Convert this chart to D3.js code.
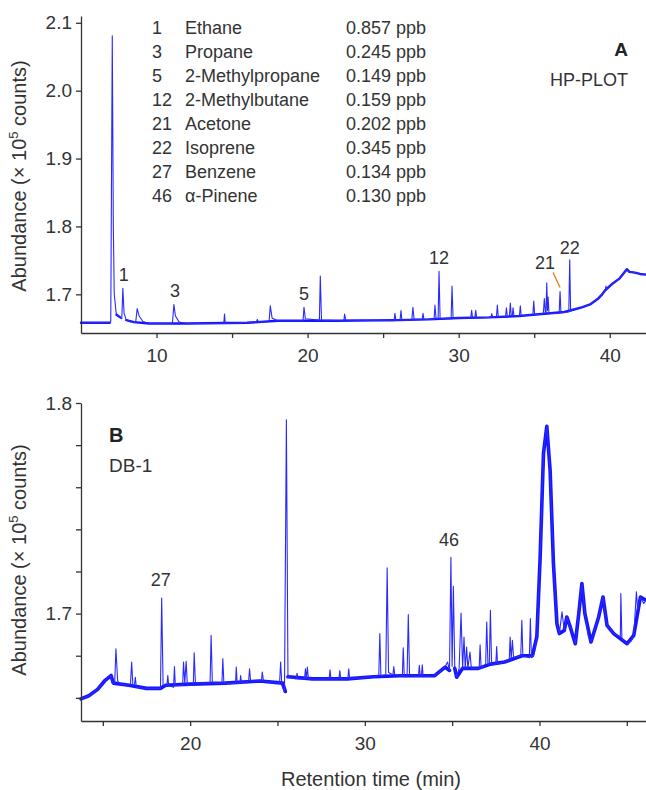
<!DOCTYPE html>
<html lang="en">
<head>
<meta charset="utf-8">
<title>Chromatograms A and B</title>
<script src="https://cdn.jsdelivr.net/npm/d3@7"></script>
<style>
  body { margin: 0; background: #fff; }
  svg { display: block; font-family: "Liberation Sans", Arial, sans-serif; }
  .axis path, .axis line { stroke: #333; stroke-width: 1.3; }
  .axis text { fill: #333; font-size: 19px; font-family: "Liberation Sans", Arial, sans-serif; }
  .lbl { fill: #333; }
</style>
</head>
<body>
<div id="chart"></div>
<script>
// legend
const compoundIds = ["1", "3", "5", "12", "21", "22", "27", "46"];
const compoundNames = ["Ethane", "Propane", "2-Methylpropane", "2-Methylbutane", "Acetone", "Isoprene", "Benzene", "\u03b1-Pinene"];
const compoundConc = ["0.857 ppb", "0.245 ppb", "0.149 ppb", "0.159 ppb", "0.202 ppb", "0.345 ppb", "0.134 ppb", "0.130 ppb"];

// ticks
const xTicksA = [10, 15, 20, 25, 30, 35, 40];
const xLabelsA = [10, 20, 30, 40];
const yTicksA = [1.7, 1.8, 1.9, 2.0, 2.1];
const xTicksB = [15, 20, 25, 30, 35, 40, 45];
const xLabelsB = [20, 30, 40];
const yTicksB = [1.66, 1.68, 1.70, 1.72, 1.74, 1.76, 1.78, 1.80];
const yLabelsB = [1.7, 1.8];

// panel A trace (retention time min, abundance x1e5)
const traceA = [
  [5.0, 1.658], [6.9, 1.658], [6.97, 1.66], [7.07, 2.081], [7.14, 1.80], [7.2, 1.70], [7.33, 1.672],
  [7.55, 1.666], [7.7, 1.664], [7.77, 1.709], [7.85, 1.672], [8.0, 1.662], [8.4, 1.659],
  [8.62, 1.659], [8.72, 1.679], [8.85, 1.668], [9.1, 1.660], [9.5, 1.657],
  [11.05, 1.657], [11.15, 1.685], [11.25, 1.668], [11.5, 1.659], [12.0, 1.657],
  [14.45, 1.657], [14.5, 1.671], [14.55, 1.657], [16.6, 1.659], [16.67, 1.663], [16.75, 1.659],
  [17.45, 1.660], [17.53, 1.683], [17.65, 1.665], [18.0, 1.661], [19.7, 1.661], [19.76, 1.681], [19.85, 1.664],
  [20.78, 1.662], [20.84, 1.727], [20.92, 1.662], [22.4, 1.661], [22.45, 1.671], [22.52, 1.662],
  [25.72, 1.661], [25.78, 1.672], [25.84, 1.662], [26.12, 1.662], [26.18, 1.676], [26.24, 1.662],
  [26.9, 1.662], [26.97, 1.681], [27.05, 1.663], [27.58, 1.663], [27.64, 1.672], [27.7, 1.663],
  [28.37, 1.663], [28.43, 1.684], [28.5, 1.665], [28.64, 1.664], [28.70, 1.734], [28.77, 1.664],
  [29.5, 1.664], [29.56, 1.712], [29.63, 1.665], [30.8, 1.665], [30.86, 1.6765], [30.92, 1.665],
  [31.07, 1.665], [31.13, 1.6765], [31.19, 1.665], [32.14, 1.666], [32.19, 1.6716], [32.25, 1.666],
  [32.5, 1.667], [32.56, 1.684], [32.62, 1.667], [33.1, 1.667], [33.16, 1.680], [33.22, 1.667],
  [33.36, 1.668], [33.42, 1.687], [33.48, 1.668], [33.55, 1.668], [33.60, 1.680], [33.66, 1.668],
  [34.02, 1.668], [34.08, 1.683], [34.14, 1.668], [34.91, 1.670], [34.97, 1.690], [35.03, 1.670],
  [35.6, 1.671], [35.67, 1.6936], [35.74, 1.672], [35.78, 1.672], [35.83, 1.717], [35.88, 1.676],
  [35.92, 1.696], [35.98, 1.672], [36.65, 1.672], [36.71, 1.704], [36.77, 1.673],
  [37.29, 1.674], [37.35, 1.751], [37.41, 1.675], [37.7, 1.678], [38.2, 1.681], [38.7, 1.685],
  [39.2, 1.693], [39.5, 1.700], [39.7, 1.706], [39.75, 1.712], [39.8, 1.707], [40.2, 1.716],
  [40.66, 1.7235], [41.13, 1.737], [41.3, 1.733], [41.66, 1.732], [42.0, 1.730], [42.4, 1.729]
];
// panel A baseline (noise band), null = gap
const noiseA = [
  [5.0, 1.658], [6.9, 1.658], null, [7.35, 1.670], [7.6, 1.666], null, [8.0, 1.662], [8.5, 1.659],
  [9.5, 1.657], [12.0, 1.657], [16.0, 1.658], [18.0, 1.661], [22.0, 1.661], [26.0, 1.662],
  [28.0, 1.663], [30.0, 1.665], [32.0, 1.666], [34.0, 1.668], [35.5, 1.671], [37.0, 1.674],
  [37.7, 1.678], [38.2, 1.681], [38.7, 1.685], [39.2, 1.693], [39.5, 1.700], [39.7, 1.706],
  [40.2, 1.716], [40.66, 1.7235], [41.13, 1.737], [41.3, 1.733], [41.66, 1.732], [42.0, 1.730],
  [42.4, 1.729]
];

// panel B trace
const traceB = [
  [13.75, 1.6595], [14.2, 1.661], [14.7, 1.664], [15.1, 1.668], [15.47, 1.6706], [15.55, 1.667],
  [15.68, 1.667], [15.75, 1.6833], [15.85, 1.668], [16.0, 1.6665], [16.58, 1.666], [16.65, 1.677],
  [16.72, 1.666], [16.81, 1.666], [16.86, 1.6698], [16.92, 1.665], [17.5, 1.6645], [18.3, 1.6645],
  [18.37, 1.7074], [18.45, 1.666], [18.67, 1.666], [18.72, 1.6706], [18.77, 1.666], [19.05, 1.665],
  [19.10, 1.6749], [19.15, 1.666], [19.57, 1.666], [19.62, 1.677], [19.69, 1.667], [19.77, 1.6773],
  [19.84, 1.666], [20.18, 1.666], [20.23, 1.6814], [20.3, 1.667], [21.14, 1.667], [21.20, 1.6897],
  [21.27, 1.667], [21.82, 1.667], [21.87, 1.6786], [21.93, 1.667], [22.6, 1.667], [22.64, 1.6746],
  [22.69, 1.667], [22.85, 1.667], [22.89, 1.6706], [22.94, 1.667], [23.35, 1.668], [23.40, 1.6738],
  [23.46, 1.668], [24.08, 1.668], [24.13, 1.6722], [24.2, 1.668], [25.12, 1.667], [25.18, 1.677],
  [25.25, 1.666], [25.4, 1.6627], [25.51, 1.792], [25.6, 1.670], [26.07, 1.669], [26.12, 1.6717],
  [26.17, 1.669], [26.55, 1.669], [26.60, 1.6738], [26.65, 1.669], [26.71, 1.6746], [26.77, 1.669],
  [27.96, 1.669], [28.01, 1.6733], [28.06, 1.669], [28.52, 1.669], [28.57, 1.673], [28.62, 1.669],
  [29.03, 1.669], [29.08, 1.6738], [29.13, 1.669], [30.5, 1.670], [30.8, 1.6705], [30.86, 1.6905],
  [30.92, 1.6705], [31.2, 1.671], [31.28, 1.7217], [31.36, 1.672], [31.61, 1.671], [31.66, 1.6749],
  [31.71, 1.671], [32.15, 1.6705], [32.20, 1.6838], [32.26, 1.670], [32.42, 1.670], [32.49, 1.6995],
  [32.56, 1.671], [33.07, 1.670], [33.12, 1.6754], [33.17, 1.6705], [33.24, 1.6705], [33.29, 1.6757],
  [33.34, 1.670], [34.0, 1.6705], [34.59, 1.6746], [34.74, 1.677], [34.85, 1.673], [34.93, 1.7267],
  [35.0, 1.675], [35.07, 1.713], [35.15, 1.675], [35.26, 1.6698], [35.4, 1.674], [35.51, 1.7003],
  [35.6, 1.674], [35.68, 1.6889], [35.75, 1.674], [35.83, 1.6841], [35.9, 1.674], [36.02, 1.6817],
  [36.1, 1.674], [36.55, 1.674], [36.60, 1.6852], [36.66, 1.674], [36.92, 1.676], [36.98, 1.696],
  [37.05, 1.676], [37.13, 1.676], [37.19, 1.7016], [37.26, 1.676], [37.5, 1.676], [37.55, 1.6844],
  [37.6, 1.676], [38.27, 1.678], [38.32, 1.6889], [38.38, 1.678], [38.45, 1.6873], [38.52, 1.679],
  [38.93, 1.680], [38.99, 1.6968], [39.05, 1.680], [39.42, 1.679], [39.48, 1.6976], [39.54, 1.679],
  [39.7, 1.681], [39.85, 1.689], [40.04, 1.727], [40.23, 1.776], [40.42, 1.7889], [40.61, 1.768],
  [40.80, 1.7238], [41.0, 1.6952], [41.14, 1.6905], [41.29, 1.7008], [41.42, 1.692], [41.57, 1.6984],
  [41.75, 1.694], [41.95, 1.689], [42.05, 1.6857], [42.25, 1.700], [42.43, 1.7143], [42.6, 1.700],
  [42.81, 1.689], [42.95, 1.6865], [43.15, 1.692], [43.39, 1.6984], [43.64, 1.7079], [43.87, 1.6944],
  [44.25, 1.6905], [44.63, 1.689], [44.66, 1.7095], [44.72, 1.688], [45.02, 1.6857], [45.25, 1.687],
  [45.40, 1.6897], [45.55, 1.7103], [45.62, 1.702], [45.69, 1.7048], [45.78, 1.7079], [45.97, 1.7048],
  [46.1, 1.7063]
];
// panel B baseline (noise band), null = gap
const noiseB = [
  [13.75, 1.6595], [14.2, 1.661], [14.7, 1.664], [15.1, 1.668], [15.47, 1.6706], [15.6, 1.667],
  [16.5, 1.666], [17.5, 1.6645], [18.3, 1.6645], [18.6, 1.666], [20.0, 1.6665], [22.0, 1.667],
  [24.0, 1.668], [25.3, 1.667], [25.45, 1.663], null, [25.6, 1.670], [27.0, 1.669], [29.0, 1.669],
  [30.5, 1.670], [32.0, 1.6705], [34.0, 1.6705], [34.6, 1.6746], [34.85, 1.673], null,
  [35.15, 1.674], [35.26, 1.6698], [35.6, 1.674], [36.5, 1.674], [37.2, 1.676], [38.0, 1.677],
  [39.0, 1.680], [39.6, 1.680], [39.85, 1.689], [40.04, 1.727], [40.23, 1.776], [40.42, 1.7889],
  [40.61, 1.768], [40.80, 1.7238], [41.0, 1.6952], [41.14, 1.6905], [41.42, 1.692],
  [41.57, 1.6984], [41.75, 1.694], [42.05, 1.6857], [42.25, 1.700], [42.43, 1.7143], [42.6, 1.700],
  [42.95, 1.6865], [43.39, 1.6984], [43.64, 1.7079], [43.87, 1.6944], [44.25, 1.6905], [45.02, 1.6857],
  [45.40, 1.6897], [45.78, 1.7079], [46.1, 1.7063]
];

// peak labels
const peakLabelsA = [
  { id: "1", t: 7.77, v: 1.709 }, { id: "3", t: 11.15, v: 1.685 }, { id: "5", t: 19.76, v: 1.681 },
  { id: "12", t: 28.70, v: 1.734 }, { id: "21", t: 36.71, v: 1.704 }, { id: "22", t: 37.35, v: 1.751 }
];
const peakLabelsB = [{ id: "27", t: 18.37, v: 1.7074 }, { id: "46", t: 34.93, v: 1.7267 }];

const W = 646, H = 790;
const svg = d3.select("#chart").append("svg").attr("width", W).attr("height", H);

const xA = d3.scaleLinear().domain([5, 42.4]).range([81, 646]);
const yA = d3.scaleLinear().domain([1.643, 2.11]).range([333, 16]);
const xB = d3.scaleLinear().domain([13.75, 46.1]).range([81, 646]);
const yB = d3.scaleLinear().domain([1.649, 1.8]).range([721, 403]);

const drawPanel = (x, y, trace, noise, xTicks, xLabels, yTicks, yLabels, noiseW, titleY) => {
  const g = svg.append("g");
  const line = d3.line().defined(d => d !== null).x(d => x(d[0])).y(d => y(d[1]));

  g.append("path").datum(noise).attr("d", line)
    .attr("fill", "none").attr("stroke", "#1414ff").attr("stroke-width", noiseW)
    .attr("stroke-linejoin", "round").attr("stroke-linecap", "round");
  g.append("path").datum(trace).attr("d", line)
    .attr("fill", "none").attr("stroke", "#2a2aff").attr("stroke-width", 1.1)
    .attr("stroke-linejoin", "round");

  g.append("g").attr("class", "axis")
    .attr("transform", "translate(0," + y.range()[0] + ")")
    .call(d3.axisBottom(x).tickValues(xTicks).tickSize(5).tickSizeOuter(0).tickPadding(11)
      .tickFormat(d => xLabels.includes(d) ? d : ""));
  g.append("g").attr("class", "axis")
    .attr("transform", "translate(" + x.range()[0] + ",0)")
    .call(d3.axisLeft(y).tickValues(yTicks).tickSize(5).tickSizeOuter(0).tickPadding(4)
      .tickFormat(d => yLabels.some(l => Math.abs(l - d) < 1e-6) ? d3.format(".1f")(d) : ""));

  const t = g.append("text").attr("class", "lbl")
    .attr("transform", "translate(26," + titleY + ") rotate(-90)")
    .attr("text-anchor", "middle").attr("font-size", 20);
  t.append("tspan").text("Abundance (\u00d7 10");
  t.append("tspan").text("5").attr("font-size", 13).attr("dy", -8);
  t.append("tspan").text(" counts)").attr("dy", 8);
};

drawPanel(xA, yA, traceA, noiseA, xTicksA, xLabelsA, yTicksA, yTicksA, 2.4, 176);
drawPanel(xB, yB, traceB, noiseB, xTicksB, xLabelsB, yTicksB, yLabelsB, 3.6, 560);

// legend
const leg = svg.append("g").attr("font-size", 18);
compoundIds.forEach((id, i) => {
  const yy = 34 + i * 24;
  leg.append("text").attr("x", 152).attr("y", yy).attr("fill", "#333").text(id);
  leg.append("text").attr("x", 185).attr("y", yy).attr("fill", "#333").text(compoundNames[i]);
  leg.append("text").attr("x", 346).attr("y", yy).attr("fill", "#333").text(compoundConc[i]);
});

// panel tags
svg.append("text").attr("x", 628).attr("y", 56).attr("text-anchor", "end")
  .attr("font-size", 19).attr("font-weight", "bold").attr("fill", "#222").text("A");
svg.append("text").attr("x", 628).attr("y", 86).attr("text-anchor", "end")
  .attr("font-size", 18).attr("fill", "#333").text("HP-PLOT");
svg.append("text").attr("x", 109).attr("y", 442)
  .attr("font-size", 20).attr("font-weight", "bold").attr("fill", "#222").text("B");
svg.append("text").attr("x", 109).attr("y", 472)
  .attr("font-size", 19).attr("fill", "#333").text("DB-1");

// peak labels
const labelOffset = { "1": [1, -7], "3": [1, -7], "5": [0, -7], "12": [0, -7], "21": [-15, -23], "22": [0, -6], "27": [-1, -12], "46": [-2, -11] };
const drawPeakLabels = (labels, x, y) => {
  labels.forEach(p => {
    const o = labelOffset[p.id];
    svg.append("text").attr("x", x(p.t) + o[0]).attr("y", y(p.v) + o[1])
      .attr("text-anchor", "middle").attr("font-size", 18).attr("fill", "#333").text(p.id);
  });
};
drawPeakLabels(peakLabelsA, xA, yA);
drawPeakLabels(peakLabelsB, xB, yB);

// leader line for peak 21
const p21 = peakLabelsA.find(p => p.id === "21");
svg.append("line")
  .attr("x1", xA(p21.t) - 7).attr("y1", yA(p21.v) - 19)
  .attr("x2", xA(p21.t)).attr("y2", yA(p21.v) - 4)
  .attr("stroke", "#e07b1a").attr("stroke-width", 1.3);

// x title
svg.append("text").attr("x", 371).attr("y", 786).attr("text-anchor", "middle")
  .attr("font-size", 20).attr("fill", "#333").text("Retention time (min)");
</script>
</body>
</html>
